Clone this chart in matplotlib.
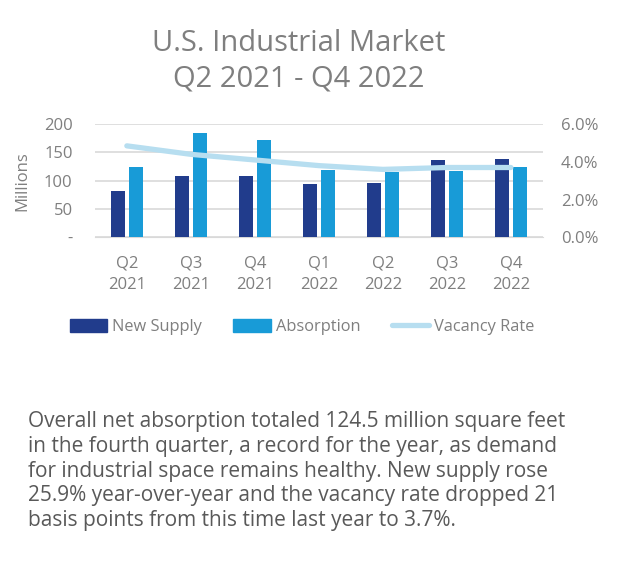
import matplotlib
matplotlib.use("Agg")
import matplotlib.pyplot as plt
import numpy as np
from matplotlib.lines import Line2D
from matplotlib.patches import Patch

plt.rcParams['font.family'] = ['Open Sans', 'DejaVu Sans']

quarters = ["Q2\n2021", "Q3\n2021", "Q4\n2021", "Q1\n2022", "Q2\n2022", "Q3\n2022", "Q4\n2022"]
new_supply = [81, 109, 109, 94, 96, 136, 138]
absorption = [125, 185, 172, 119, 115, 117, 124.5]
vacancy_rate = [4.85, 4.4, 4.1, 3.8, 3.6, 3.7, 3.7]

dark_blue = "#213C8C"
mid_blue = "#189BD7"
light_blue = "#B7DEF0"
grey_txt = "#7F7F7F"

fig = plt.figure(figsize=(6.24, 5.62), dpi=100)
ax = fig.add_axes([0.152, 0.578, 0.718, 0.201])
ax2 = ax.twinx()

x = np.arange(len(quarters))
w = 0.22
ax.bar(x - 0.14, new_supply, w, color=dark_blue, zorder=3)
ax.bar(x + 0.14, absorption, w, color=mid_blue, zorder=3)
ax2.plot(x, vacancy_rate, color=light_blue, lw=3.8, solid_capstyle='round',
         solid_joinstyle='round', zorder=4)

ax.set_xlim(-0.5, len(quarters) - 0.5)
ax.set_ylim(0, 200)
ax.set_yticks([0, 50, 100, 150, 200])
ax.set_yticklabels(["-", "50", "100", "150", "200"])
ax2.set_ylim(0, 6)
ax2.set_yticks([0, 2, 4, 6])
ax2.set_yticklabels(["0.0%", "2.0%", "4.0%", "6.0%"])
ax.set_xticks(x)
ax.set_xticklabels(quarters, linespacing=1.5)

ax.grid(axis='y', color="#D9D9D9", lw=1.2, zorder=0)
for a in (ax, ax2):
    for s in a.spines.values():
        s.set_visible(False)
    a.tick_params(length=0, labelsize=12, labelcolor=grey_txt)
ax.spines['bottom'].set_visible(True)
ax.spines['bottom'].set_color("#D9D9D9")
ax.tick_params(axis='x', pad=13)
ax.tick_params(axis='y', pad=16)
ax2.tick_params(axis='y', pad=13)
ax.set_ylabel("Millions", fontsize=12, color=grey_txt, labelpad=10)
ax2.set_zorder(ax.get_zorder() + 1)
ax2.patch.set_visible(False)

fig.text(0.478, 0.922, "U.S. Industrial Market", ha='center', va='center',
         fontsize=21, color=grey_txt)
fig.text(0.478, 0.86, "Q2 2021 - Q4 2022", ha='center', va='center',
         fontsize=21, color=grey_txt)

handles = [Patch(color=dark_blue), Patch(color=mid_blue),
           Line2D([0], [0], color=light_blue, lw=3.8, solid_capstyle='round')]
fig.legend(handles, ["New Supply", "Absorption", "Vacancy Rate"], loc='center',
           bbox_to_anchor=(0.484, 0.418), ncol=3, frameon=False, fontsize=11.8,
           labelcolor=grey_txt, handlelength=2.3, handleheight=0.8,
           handletextpad=0.3, columnspacing=1.9)

body = ("Overall net absorption totaled 124.5 million square feet\n"
        "in the fourth quarter, a record for the year, as demand\n"
        "for industrial space remains healthy. New supply rose\n"
        "25.9% year-over-year and the vacancy rate dropped 21\n"
        "basis points from this time last year to 3.7%.")
fig.text(0.045, 0.269, body, ha='left', va='top', fontsize=15,
         color="#595959", linespacing=1.24)

fig.savefig("out.png", dpi=100)
